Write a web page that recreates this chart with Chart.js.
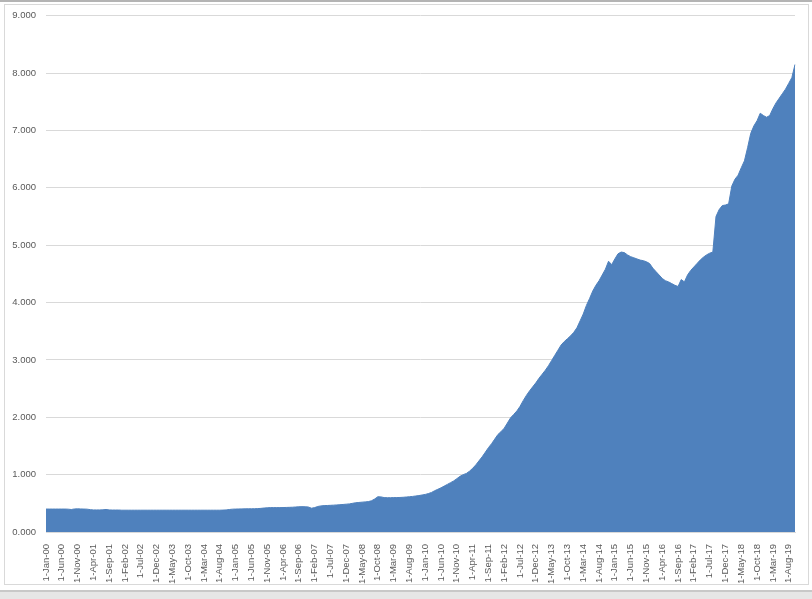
<!DOCTYPE html>
<html>
<head>
<meta charset="utf-8">
<script src="https://cdn.jsdelivr.net/npm/chart.js@4.4.1/dist/chart.umd.min.js"></script>
<style>
  body { margin: 0; background: #fff; overflow: hidden; }
  #topLine { position: absolute; left: 0; top: 0; width: 812px; height: 2px; background: #b4b4b4; }
  #frame { position: absolute; left: 4px; top: 4px; width: 803px; height: 579px; border: 1px solid #d9d9d9; }
  #band { position: absolute; left: 0; top: 590px; width: 812px; height: 9px; background: #e6e6e6; border-top: 2px solid #c8c8c8; }
  #wrap { position: absolute; left: 0; top: 0; width: 812px; height: 599px; }
</style>
</head>
<body>
<div id="topLine"></div>
<div id="frame"></div>
<div id="band"></div>
<div id="wrap"><canvas id="areaChart" width="812" height="599"></canvas></div>
<script>
const monthNames = ['Jan', 'Feb', 'Mar', 'Apr', 'May', 'Jun', 'Jul', 'Aug', 'Sep', 'Oct', 'Nov', 'Dec'];
const years = ['00', '01', '02', '03', '04', '05', '06', '07', '08', '09',
               '10', '11', '12', '13', '14', '15', '16', '17', '18', '19'];
const lastMonthIndex = 9; // series ends Oct-19

// monthly values
const values2000_04 = [
    0.400, 0.400, 0.400, 0.400, 0.400, 0.400, 0.400, 0.398, 0.392, 0.402, 0.404, 0.402,
    0.400, 0.398, 0.390, 0.385, 0.385, 0.385, 0.387, 0.393, 0.385, 0.383, 0.383, 0.383,
    0.380, 0.380, 0.380, 0.380, 0.380, 0.380, 0.380, 0.380, 0.380, 0.380, 0.380, 0.380,
    0.380, 0.380, 0.380, 0.380, 0.380, 0.380, 0.380, 0.380, 0.380, 0.380, 0.380, 0.380,
    0.380, 0.380, 0.380, 0.380, 0.380, 0.380, 0.380, 0.380, 0.382, 0.385, 0.392, 0.398
];
const values2005_09 = [
    0.400, 0.402, 0.403, 0.404, 0.405, 0.405, 0.406, 0.408, 0.412, 0.418, 0.422, 0.425,
    0.425, 0.425, 0.425, 0.426, 0.428, 0.430, 0.432, 0.436, 0.440, 0.442, 0.440, 0.436,
    0.415, 0.425, 0.445, 0.455, 0.460, 0.462, 0.465, 0.468, 0.472, 0.476, 0.480, 0.485,
    0.490, 0.500, 0.510, 0.515, 0.520, 0.525, 0.530, 0.545, 0.575, 0.615, 0.612, 0.600,
    0.598, 0.598, 0.600, 0.600, 0.602, 0.605, 0.610, 0.615, 0.620, 0.628, 0.635, 0.645
];
const values2010_14 = [
    0.655, 0.670, 0.690, 0.720, 0.745, 0.770, 0.800, 0.830, 0.860, 0.890, 0.930, 0.970,
    1.000, 1.020, 1.060, 1.110, 1.170, 1.240, 1.310, 1.390, 1.470, 1.540, 1.620, 1.700,
    1.750, 1.810, 1.900, 1.990, 2.050, 2.110, 2.190, 2.290, 2.380, 2.460, 2.530, 2.600,
    2.680, 2.750, 2.820, 2.900, 2.990, 3.080, 3.170, 3.260, 3.320, 3.370, 3.420, 3.480,
    3.560, 3.680, 3.800, 3.950, 4.070, 4.200, 4.300, 4.380, 4.480, 4.580, 4.720, 4.660
];
const values2015_19 = [
    4.760, 4.850, 4.880, 4.870, 4.830, 4.800, 4.780, 4.760, 4.740, 4.730, 4.710, 4.680,
    4.600, 4.540, 4.480, 4.420, 4.380, 4.360, 4.330, 4.300, 4.280, 4.400, 4.360, 4.480,
    4.560, 4.620, 4.680, 4.740, 4.790, 4.830, 4.860, 4.880, 5.500, 5.620, 5.690, 5.700,
    5.720, 6.030, 6.150, 6.220, 6.350, 6.470, 6.700, 6.950, 7.080, 7.170, 7.300, 7.260,
    7.230, 7.260, 7.380, 7.480, 7.560, 7.640, 7.720, 7.820, 7.920, 8.150
];

const yTicks = [0, 1, 2, 3, 4, 5, 6, 7, 8, 9];
const labelEvery = 5;

const categories = [];
years.forEach((yy, yi) => {
    monthNames.forEach((m, mi) => {
        if (yi === years.length - 1 && mi > lastMonthIndex) return;
        categories.push('1-' + m + '-' + yy);
    });
});

const values = [].concat(values2000_04, values2005_09, values2010_14, values2015_19);

const ctx = document.getElementById('areaChart').getContext('2d');
new Chart(ctx, {
    type: 'line',
    data: {
        labels: categories,
        datasets: [{
            data: values,
            fill: 'origin',
            backgroundColor: '#4f81bd',
            borderColor: '#4f81bd',
            borderWidth: 1,
            pointRadius: 0,
            tension: 0
        }]
    },
    options: {
        responsive: false,
        animation: false,
        events: [],
        layout: { padding: { left: 6, right: 17, top: 10, bottom: 12 } },
        plugins: { legend: { display: false }, tooltip: { enabled: false } },
        scales: {
            x: {
                type: 'category',
                offset: false,
                grid: { display: false },
                border: { display: true, color: '#d9d9d9' },
                ticks: {
                    autoSkip: false,
                    minRotation: 90,
                    maxRotation: 90,
                    padding: 4,
                    color: '#595959',
                    font: { family: 'Liberation Sans', size: 9.5 },
                    callback: function(value, index) {
                        return index % labelEvery === 0 ? this.getLabelForValue(value) : null;
                    }
                },
                afterFit: function(scale) { scale.height = 55; }
            },
            y: {
                min: 0,
                max: 9,
                afterBuildTicks: function(scale) {
                    scale.ticks = yTicks.map(v => ({ value: v }));
                },
                grid: { color: '#d9d9d9', drawTicks: false },
                border: { display: false },
                ticks: {
                    padding: 10,
                    color: '#595959',
                    font: { family: 'Liberation Sans', size: 9.5 },
                    callback: function(value) { return value.toFixed(3); }
                },
                afterFit: function(scale) { scale.width = 40; }
            }
        }
    }
});
</script>
</body>
</html>
